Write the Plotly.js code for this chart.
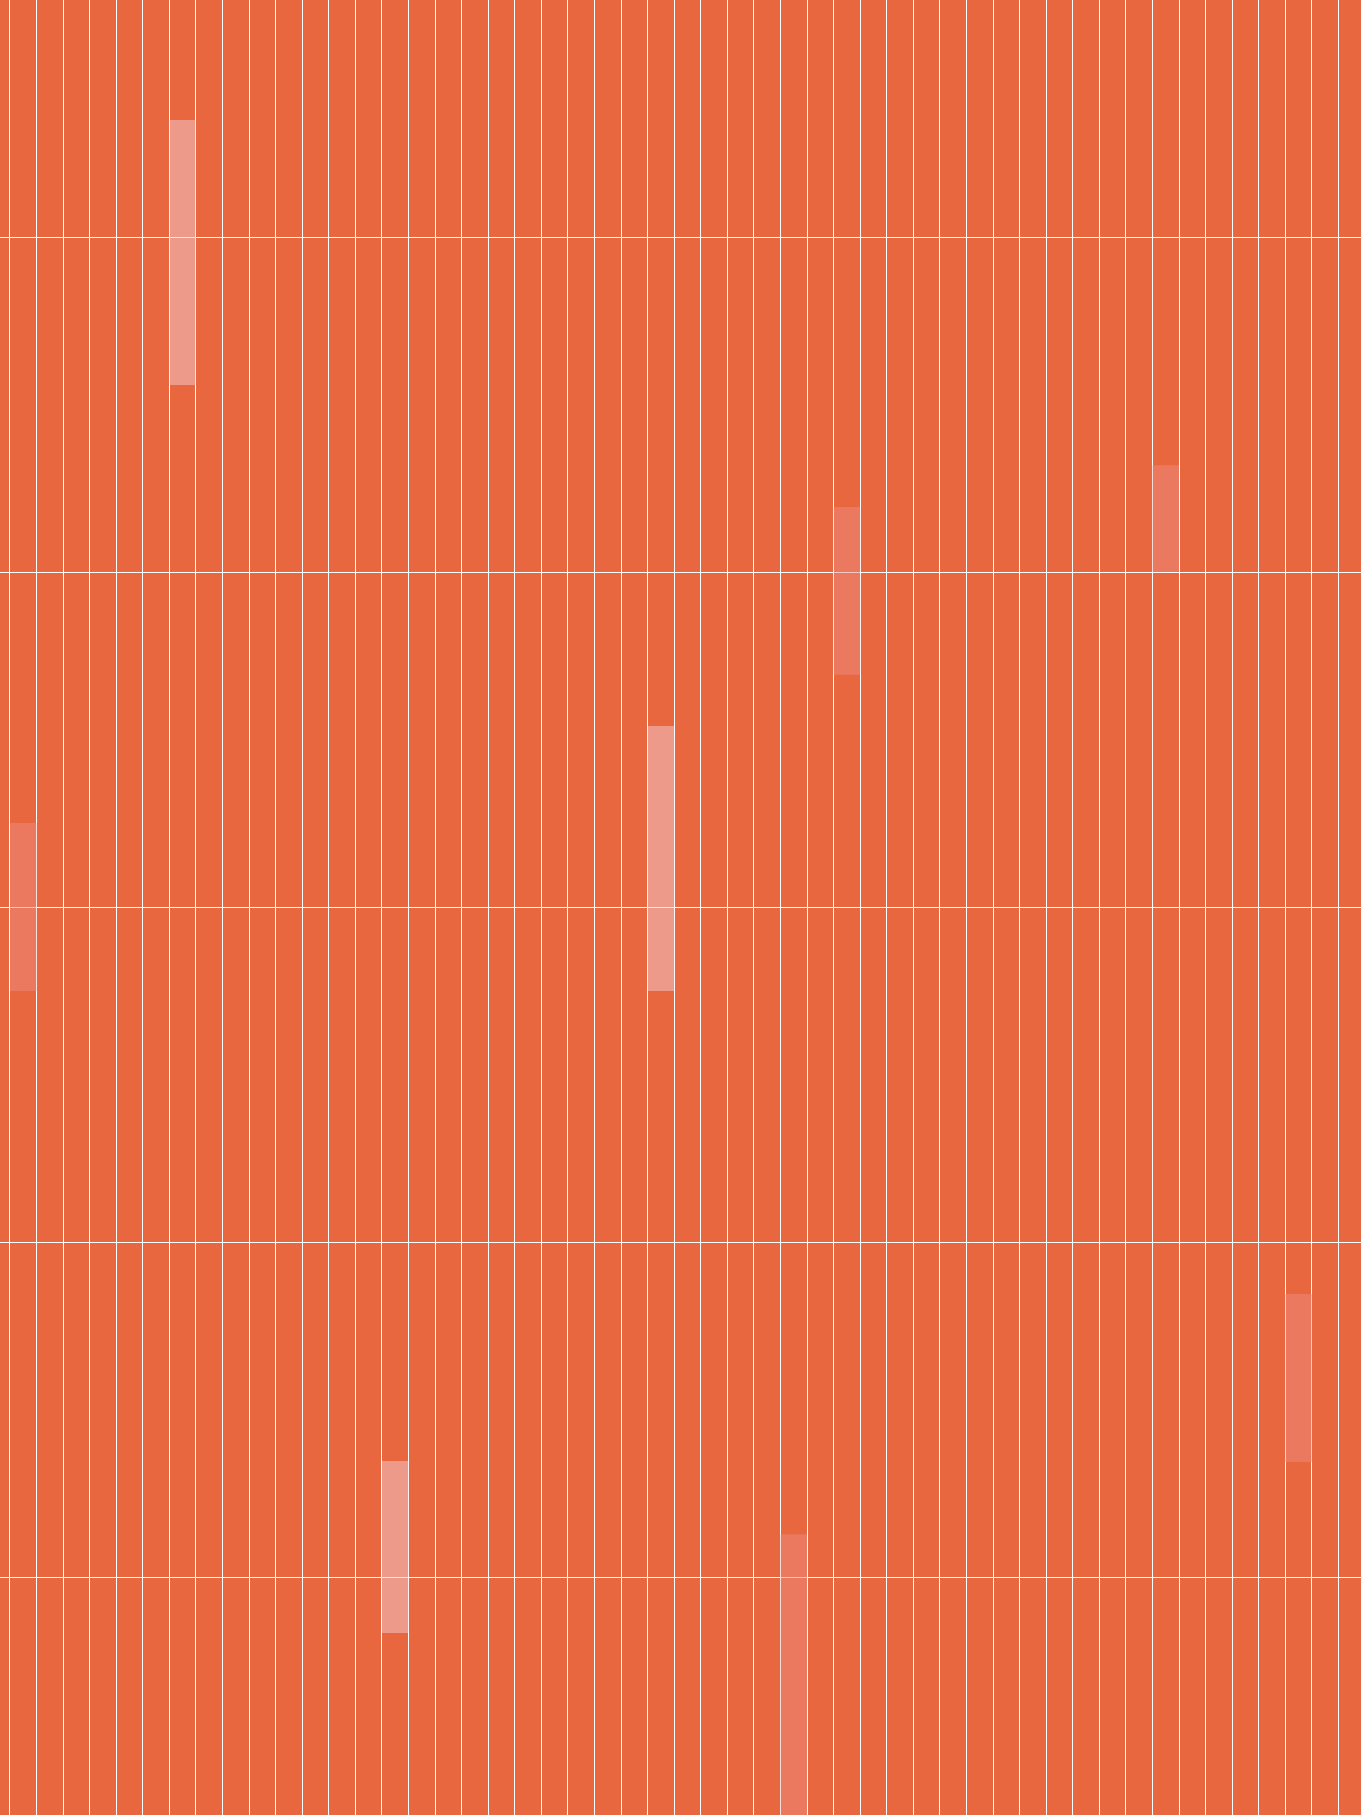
<!DOCTYPE html>
<html>
<head>
<meta charset="utf-8">
<script src="https://cdn.plot.ly/plotly-3.0.1.min.js"></script>
<style>html,body{margin:0;padding:0;background:#E8673F;}#chart{width:1361px;height:1815px;}</style>
</head>
<body>
<div id="chart"></div>
<script>
// Light bars
const lightX = [6.5, 24.5, 14.5];
const lightBase = [3.558, 1.749, -0.167];
const lightTop = [4.349, 2.540, 0.346];
// Medium bars
const medX = [31.5, 43.5, 0.5, 48.5, 29.5];
const medBase = [2.693, 3.0, 1.749, 0.343, -1.0];
const medTop = [3.194, 3.319, 2.251, 0.845, 0.128];

function span(base, top) { return top.map((t, i) => t - base[i]); }

const traces = [
  {type: 'bar', x: lightX, y: span(lightBase, lightTop), base: lightBase, width: 1,
   marker: {color: 'rgba(244,205,213,0.5)', line: {width: 0}}, hoverinfo: 'skip'},
  {type: 'bar', x: medX, y: span(medBase, medTop), base: medBase, width: 1,
   marker: {color: 'rgba(236,140,128,0.5)', line: {width: 0}}, hoverinfo: 'skip'}
];

const layout = {
  width: 1361, height: 1815,
  margin: {l: 0, r: 0, t: 0, b: 0, pad: 0},
  paper_bgcolor: '#E8673F', plot_bgcolor: '#E8673F',
  showlegend: false, barmode: 'overlay',
  xaxis: {range: [-0.376, 50.85], dtick: 1, tick0: 0, showgrid: true, gridcolor: '#FFFFFF', gridwidth: 1,
          zeroline: false, showticklabels: false, ticks: '', showline: false},
  yaxis: {range: [-0.7104, 4.7075], dtick: 1, tick0: 0, showgrid: true, gridcolor: '#FFFFFF', gridwidth: 1,
          zeroline: false, showticklabels: false, ticks: '', showline: false}
};

Plotly.newPlot('chart', traces, layout, {staticPlot: true, displayModeBar: false});
</script>
</body>
</html>
